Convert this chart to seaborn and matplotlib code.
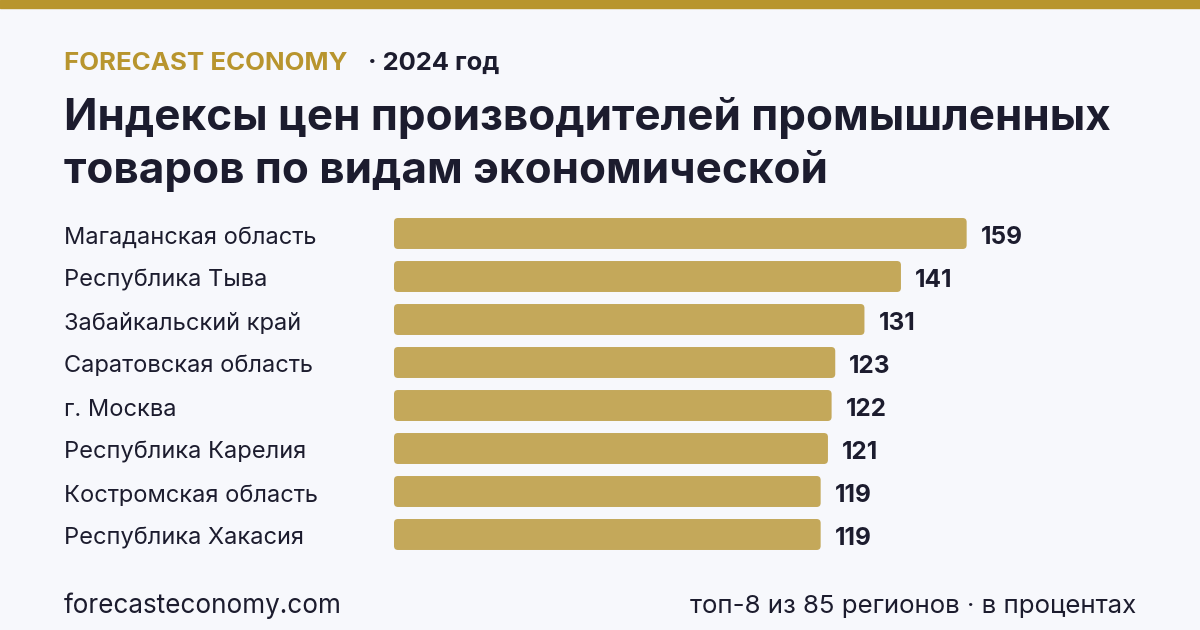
import matplotlib
matplotlib.use("Agg")
import matplotlib.pyplot as plt
import matplotlib.transforms as mtransforms
from matplotlib.patches import FancyBboxPatch, Rectangle
import seaborn as sns
import pandas as pd

# данные
regions = [
    "Магаданская область",
    "Республика Тыва",
    "Забайкальский край",
    "Саратовская область",
    "г. Москва",
    "Республика Карелия",
    "Костромская область",
    "Республика Хакасия",
]
values = [159, 141, 131, 123, 122, 121, 119, 119]

title_lines = ["Индексы цен производителей промышленных",
               "товаров по видам экономической"]
brand = "FORECAST ECONOMY"
year_text = "· 2024 год"
footer_left = "forecasteconomy.com"
footer_right = "топ-8 из 85 регионов · в процентах"

BG = "#F7F8FC"
GOLD = "#B8952E"
BAR = "#C4A85A"
DARK = "#1C1C2E"

sns.set_theme(style="white")
plt.rcParams["font.family"] = ["Inter", "DejaVu Sans"]

df = pd.DataFrame({"region": regions, "value": values})

W, H = 1200, 630
fig = plt.figure(figsize=(12, 6.3), dpi=100, facecolor=BG)

# верхняя полоса
fig.patches.append(Rectangle((0, 1 - 8 / H), 1, 8 / H, transform=fig.transFigure,
                             color=GOLD, zorder=0))

# шкала: 3.65 px на единицу, ноль на 386.3 px, бары начинаются с 394 px
px_per_unit = 3.65
zero_px = 386.3
ax_left, ax_right = 394, 1136
ax_top, ax_bottom = 212, 212 + 43 * len(regions)
ax = fig.add_axes([ax_left / W, 1 - ax_bottom / H, (ax_right - ax_left) / W,
                   (ax_bottom - ax_top) / H])
ax.set_facecolor(BG)

sns.barplot(data=df, x="value", y="region", orient="h", color=BAR,
            width=0.72, saturation=1, ax=ax)
xmin = (ax_left - zero_px) / px_per_unit
xmax = (ax_right - zero_px) / px_per_unit
ax.set_xlim(xmin, xmax)
ax.set_ylim(len(regions) - 0.5, -0.5)

# скруглённые углы
r_x = 4 / px_per_unit
aspect = (4 / 43) / r_x
for p in list(ax.patches):
    y0 = p.get_y()
    w, h = p.get_width(), p.get_height()
    rb = FancyBboxPatch((xmin, y0), w - xmin, h,
                        boxstyle=f"round,pad=0,rounding_size={r_x}",
                        mutation_aspect=aspect, facecolor=BAR,
                        edgecolor="none", linewidth=0)
    p.remove()
    ax.add_patch(rb)

for s in ax.spines.values():
    s.set_visible(False)
ax.set_xticks([])
ax.set_yticks([])
ax.set_xlabel("")
ax.set_ylabel("")

# подписи регионов и значений
trans = mtransforms.blended_transform_factory(fig.transFigure, ax.transData)
for i, (name, v) in enumerate(zip(regions, values)):
    ax.text(64 / W, i + 10 / 43, name, transform=trans, ha="left",
            va="baseline", fontsize=17, color=DARK)
    ax.text(v + 14 / px_per_unit, i + 10.5 / 43, str(v), ha="left",
            va="baseline", fontsize=17.5, fontweight="bold", color=DARK)

# шапка
fig.text(64 / W, 1 - 70 / H, brand, fontsize=18.6, fontweight="bold",
         color=GOLD, va="baseline", ha="left")
fig.text(368 / W, 1 - 70 / H, year_text, fontsize=18.4, fontweight="bold",
         color=DARK, va="baseline", ha="left")
fig.text(64 / W, 1 - 130 / H, title_lines[0], fontsize=31.7, fontweight="bold",
         color=DARK, va="baseline", ha="left")
fig.text(64 / W, 1 - 183 / H, title_lines[1], fontsize=31.7, fontweight="bold",
         color=DARK, va="baseline", ha="left")

# подвал
fig.text(64 / W, 1 - 613 / H, footer_left, fontsize=18.8, color=DARK,
         va="baseline", ha="left")
fig.text(1136 / W, 1 - 613 / H, footer_right, fontsize=18.6, color=DARK,
         va="baseline", ha="right")

fig.savefig("out.png", dpi=100, facecolor=BG)
